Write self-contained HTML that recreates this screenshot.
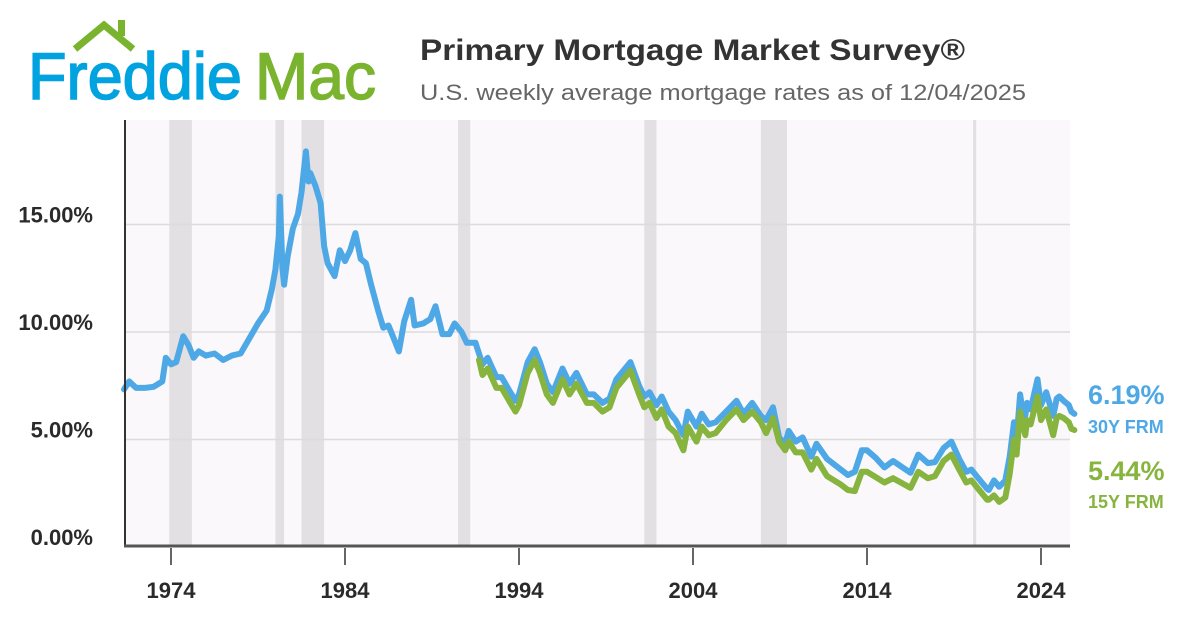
<!DOCTYPE html>
<html><head><meta charset="utf-8"><style>
html,body{margin:0;padding:0;background:#fff;}
svg{display:block;font-family:"Liberation Sans",sans-serif;}
</style></head><body>
<svg id="chart" width="1200" height="630" viewBox="0 0 1200 630">
<g>
<polyline points="75,49 104,25 133,49" fill="none" stroke="#7ab32e" stroke-width="7"/>
<rect x="118" y="20" width="7" height="16" fill="#7ab32e"/>
<text x="28" y="99" font-size="66" fill="#00a3e0" stroke="#00a3e0" stroke-width="1.5" textLength="214" lengthAdjust="spacingAndGlyphs">Freddie</text>
<text x="255" y="99" font-size="66" fill="#7ab32e" stroke="#7ab32e" stroke-width="1.5" textLength="121" lengthAdjust="spacingAndGlyphs">Mac</text>
</g>
<text x="420" y="60" font-size="30" font-weight="bold" fill="#333" textLength="545" lengthAdjust="spacingAndGlyphs">Primary Mortgage Market Survey®</text>
<text x="420" y="100" font-size="22" fill="#666" textLength="606" lengthAdjust="spacingAndGlyphs">U.S. weekly average mortgage rates as of 12/04/2025</text>
<rect x="125" y="120" width="945" height="427" fill="#faf8fa"/>
<g id="bands"></g><g id="grid"></g><g id="series"></g><g id="axes"></g>
<text x="1088" y="404" font-size="27" font-weight="bold" fill="#4fa8e6">6.19%</text>
<text x="1088" y="433" font-size="18" font-weight="bold" fill="#4fa8e6">30Y FRM</text>
<text x="1088" y="480" font-size="27" font-weight="bold" fill="#86b43e">5.44%</text>
<text x="1088" y="508" font-size="18" font-weight="bold" fill="#86b43e">15Y FRM</text>
</svg>
<script>
const yTicks=[0,5,10,15];
const yTickLabels=["0.00%","5.00%","10.00%","15.00%"];
const xTicks=[1974,1984,1994,2004,2014,2024];
const recessions=[[1973.9,1975.2],[1980.0,1980.5],[1981.5,1982.8],[1990.5,1991.2],[2001.2,2001.9],[2007.9,2009.4],[2020.1,2020.25]];
const dates30=[1971.3,1971.6,1972.0,1972.5,1973.0,1973.5,1973.7,1974.0,1974.3,1974.7,1975.0,1975.3,1975.6,1976.0,1976.5,1977.0,1977.5,1978.0,1978.5,1979.0,1979.5,1979.8,1980.0,1980.2,1980.25,1980.4,1980.5,1980.7,1981.0,1981.3,1981.5,1981.75,1981.9,1982.0,1982.3,1982.6,1982.8,1983.0,1983.4,1983.7,1984.0,1984.3,1984.6,1984.9,1985.2,1985.5,1985.9,1986.2,1986.5,1986.9,1987.1,1987.4,1987.8,1988.0,1988.5,1988.9,1989.2,1989.6,1990.0,1990.3,1990.7,1991.0,1991.5,1991.9,1992.2,1992.7,1993.0,1993.5,1993.8,1994.0,1994.5,1994.9,1995.2,1995.6,1995.95,1996.2,1996.5,1996.9,1997.3,1997.9,1998.3,1998.8,1999.2,1999.6,2000.0,2000.4,2000.9,2001.2,2001.5,2001.9,2002.2,2002.6,2003.0,2003.45,2003.7,2004.2,2004.5,2004.9,2005.3,2005.9,2006.5,2006.9,2007.4,2007.9,2008.2,2008.6,2008.95,2009.3,2009.5,2009.9,2010.3,2010.8,2011.1,2011.7,2012.5,2012.9,2013.3,2013.7,2014.0,2014.5,2015.0,2015.5,2016.5,2016.95,2017.5,2017.9,2018.4,2018.85,2019.3,2019.7,2020.0,2020.3,2020.9,2021.0,2021.3,2021.6,2021.95,2022.2,2022.45,2022.6,2022.8,2022.95,2023.1,2023.2,2023.4,2023.8,2024.0,2024.3,2024.7,2024.9,2025.05,2025.3,2025.6,2025.75,2025.92];
const rates30=[7.33,7.7,7.4,7.4,7.45,7.7,8.8,8.5,8.6,9.8,9.4,8.8,9.1,8.9,9.0,8.7,8.9,9.0,9.7,10.4,11.0,12.0,12.9,14.5,16.3,13.0,12.2,13.5,14.8,15.5,16.5,18.4,17.0,17.4,16.8,16.0,14.0,13.2,12.6,13.8,13.3,13.8,14.6,13.4,13.2,12.2,11.0,10.2,10.3,9.5,9.1,10.5,11.5,10.3,10.4,10.6,11.2,9.9,9.9,10.4,10.0,9.5,9.5,8.5,8.8,7.9,7.9,7.2,6.8,7.1,8.6,9.2,8.6,7.6,7.2,7.7,8.3,7.6,8.1,7.1,7.1,6.7,6.9,7.8,8.2,8.6,7.5,7.0,7.2,6.6,7.0,6.3,5.9,5.2,6.3,5.6,6.2,5.7,5.8,6.3,6.8,6.2,6.7,6.1,5.9,6.5,5.1,4.8,5.4,4.9,5.1,4.2,4.8,4.1,3.6,3.35,3.5,4.5,4.5,4.15,3.7,4.0,3.45,4.3,3.9,3.95,4.6,4.9,4.1,3.5,3.6,3.3,2.7,2.65,3.1,2.8,3.1,4.2,5.8,5.0,7.1,6.3,6.1,6.7,6.4,7.8,6.6,7.2,6.1,6.9,7.0,6.8,6.6,6.3,6.19];
const dates15=[1991.7,1991.9,1992.2,1992.7,1993.0,1993.5,1993.8,1994.0,1994.5,1994.9,1995.2,1995.6,1995.95,1996.2,1996.5,1996.9,1997.3,1997.9,1998.3,1998.8,1999.2,1999.6,2000.0,2000.4,2000.9,2001.2,2001.5,2001.9,2002.2,2002.6,2003.0,2003.45,2003.7,2004.2,2004.5,2004.9,2005.3,2005.9,2006.5,2006.9,2007.4,2007.9,2008.2,2008.6,2008.95,2009.3,2009.5,2009.9,2010.3,2010.8,2011.1,2011.7,2012.5,2012.9,2013.3,2013.7,2014.0,2014.5,2015.0,2015.5,2016.5,2016.95,2017.5,2017.9,2018.4,2018.85,2019.3,2019.7,2020.0,2020.3,2020.9,2021.0,2021.3,2021.6,2021.95,2022.2,2022.45,2022.6,2022.8,2022.95,2023.1,2023.2,2023.4,2023.8,2024.0,2024.3,2024.7,2024.9,2025.05,2025.3,2025.6,2025.75,2025.92];
const rates15=[8.7,8.0,8.3,7.4,7.4,6.7,6.3,6.6,8.1,8.7,8.1,7.1,6.7,7.2,7.8,7.1,7.6,6.7,6.7,6.3,6.5,7.4,7.8,8.2,7.1,6.5,6.7,6.0,6.4,5.6,5.3,4.5,5.6,4.9,5.6,5.2,5.3,5.9,6.4,5.9,6.3,5.8,5.3,6.0,4.9,4.5,4.9,4.4,4.4,3.6,4.1,3.3,2.9,2.65,2.6,3.5,3.5,3.25,3.0,3.2,2.75,3.5,3.2,3.3,4.0,4.3,3.6,3.0,3.1,2.8,2.2,2.2,2.4,2.1,2.3,3.4,5.0,4.3,6.3,5.7,5.2,5.9,5.7,7.0,5.9,6.4,5.2,6.0,6.1,6.0,5.8,5.5,5.44];
const NS="http://www.w3.org/2000/svg";
function xs(t){return 171+(t-1974)*17.4;}
function ys(r){return 547-r*21.5;}
function mk(tag,attrs,parent){const e=document.createElementNS(NS,tag);for(const k in attrs)e.setAttribute(k,attrs[k]);document.getElementById(parent).appendChild(e);return e;}
recessions.forEach(b=>{const e=mk('rect',{x:xs(b[0]),y:120,width:Math.max(3,xs(b[1])-xs(b[0])),height:427,fill:'#e2e0e2'},'bands');

});
yTicks.forEach((v,i)=>{if(v>0){const g=mk('line',{x1:125,x2:1070,y1:ys(v),y2:ys(v),stroke:'#dcdcdc','stroke-width':1.5},'grid');

}
const t=mk('text',{x:93,y:ys(v)-2,'text-anchor':'end','font-size':22,'font-weight':'bold',fill:'#2a2a2a'},'axes');t.textContent=yTickLabels[i];

});
function line(d,r,color,name){const p=d.map((t,i)=>(i?'L':'M')+xs(t).toFixed(1)+','+ys(r[i]).toFixed(1)).join('');
const e=mk('path',{d:p,fill:'none',stroke:color,'stroke-width':6,'stroke-linejoin':'round','stroke-linecap':'round'},'series');

}
line(dates30,rates30,'#4fa8e6','series-30y-frm');
line(dates15,rates15,'#86b43e','series-15y-frm');
const ax=mk('line',{x1:125,x2:125,y1:120,y2:547,stroke:'#333','stroke-width':2},'axes');


const bx=mk('line',{x1:124,x2:1070,y1:546,y2:546,stroke:'#555','stroke-width':3},'axes');


xTicks.forEach(y=>{const l=mk('line',{x1:xs(y),x2:xs(y),y1:548,y2:565,stroke:'#333','stroke-width':1.5},'axes');


const t=mk('text',{x:xs(y),y:598,'text-anchor':'middle','font-size':22,'font-weight':'bold',fill:'#2a2a2a'},'axes');t.textContent=y;

});
</script>
</body></html>
